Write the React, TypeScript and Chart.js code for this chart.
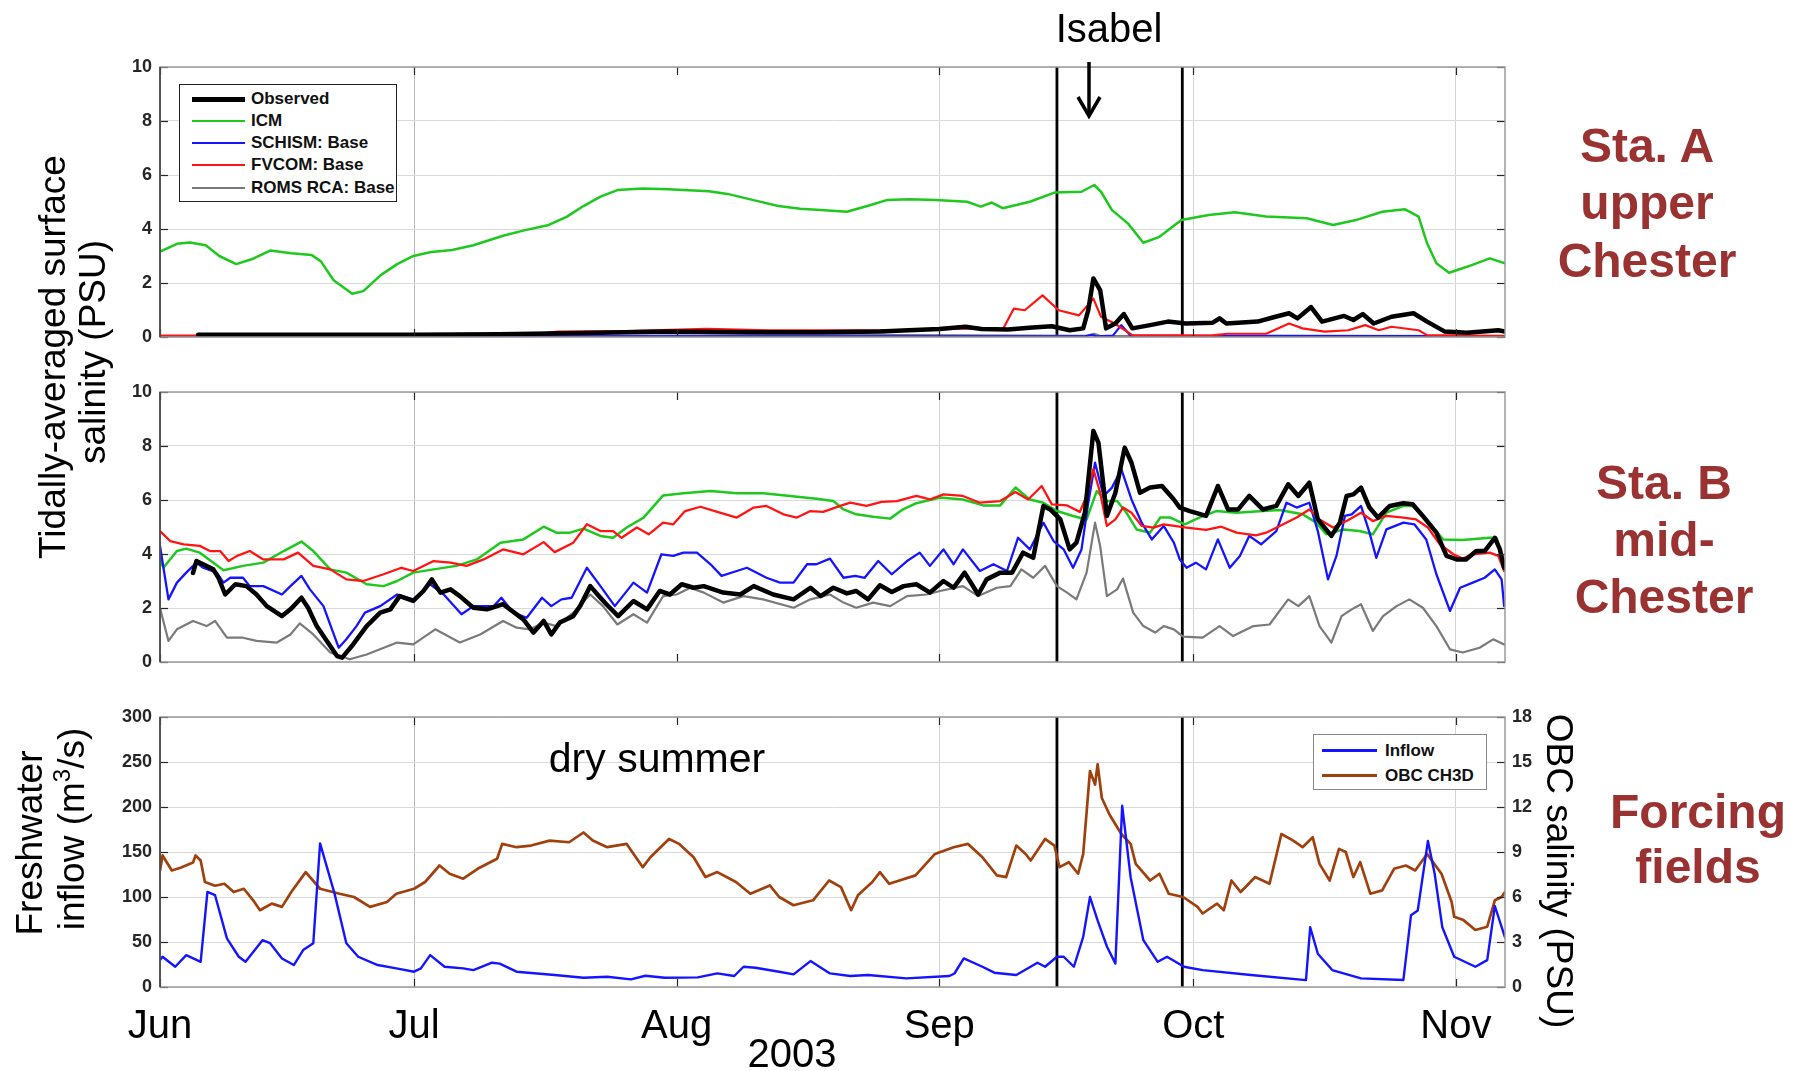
import React, { useEffect, useRef } from 'react';
import { Chart, registerables } from 'chart.js';
Chart.register(...registerables);

type P = [number, number];

const FONT = "'Liberation Sans', Arial, Helvetica, sans-serif";

// x axis: days since 1 June 2003
const monthDays = [0, 30, 61, 92, 122, 153];
const monthLabels = ['Jun', 'Jul', 'Aug', 'Sep', 'Oct', 'Nov'];
const monthGridOn = [true, true, false, true, true, true];
const xEnd = 158.8;
const isabelLines = [105.9, 120.7];

const salinityStep = 2;
const salinityMax = 10;
const inflowStep = 50;
const inflowMax = 300;
const obcStep = 3;
const obcMax = 18;

const namesAB = ['Observed', 'ICM', 'SCHISM: Base', 'FVCOM: Base', 'ROMS RCA: Base'];
const namesC = ['Inflow', 'OBC CH3D'];

// ---------- Sta. A (upper Chester) ----------
const obsA: P[] = [[4.5,0.08],[10,0.08],[20,0.08],[30,0.08],[40,0.1],[50,0.15],[60,0.2],[70,0.18],[78,0.18],[85,0.2],[88.4,0.25],[92,0.3],[95.1,0.38],[97,0.3],[100.1,0.28],[103,0.35],[105.3,0.4],[107.4,0.25],[109,0.32],[109.6,1.0],[110.2,2.17],[111,1.74],[111.7,0.32],[112.8,0.5],[113.8,0.85],[114.8,0.32],[116.9,0.44],[119,0.57],[121.1,0.5],[124.3,0.53],[125.1,0.69],[125.9,0.5],[129.6,0.57],[131.7,0.75],[133.3,0.88],[134.3,0.69],[135.9,1.11],[137.2,0.57],[139.8,0.78],[140.9,0.63],[142,0.85],[143.3,0.5],[145.4,0.75],[148,0.88],[149.6,0.57],[151.7,0.2],[154.3,0.16],[158,0.25],[158.8,0.2]];
const icmA: P[] = [[0,3.16],[2,3.45],[3.5,3.5],[5.4,3.4],[7,3.0],[9,2.7],[11,2.9],[13,3.2],[15.5,3.1],[17.9,3.04],[19,2.8],[20.5,2.1],[22.7,1.6],[24,1.7],[26.1,2.3],[28,2.7],[29.8,2.99],[32,3.15],[34.5,3.22],[37,3.4],[40.5,3.75],[43,3.95],[45.9,4.15],[48,4.45],[50,4.85],[52,5.2],[54,5.44],[57,5.5],[60,5.47],[64.8,5.4],[67,5.3],[70.2,5.06],[73,4.85],[75.6,4.75],[78,4.7],[81.1,4.64],[83.5,4.85],[85.8,5.07],[88.5,5.1],[91.6,5.07],[95.3,5.01],[96.9,4.83],[98.2,4.98],[99.5,4.77],[102.7,5.01],[105.6,5.35],[108.8,5.38],[110.3,5.63],[111.1,5.38],[112.4,4.7],[114.3,4.2],[116.1,3.49],[118,3.71],[120.6,4.33],[123.8,4.52],[126.9,4.62],[130.6,4.46],[135.4,4.4],[138.5,4.15],[141.2,4.33],[144.3,4.64],[147,4.73],[148.6,4.46],[149.6,3.47],[150.7,2.73],[152.2,2.38],[154.3,2.6],[157,2.91],[158.8,2.73]];
const schismA: P[] = [[0,0.02],[109,0.02],[110,0.08],[110.6,0.02],[112.5,0.05],[113.5,0.44],[114.6,0.05],[158.8,0.02]];
const fvcomA: P[] = [[0,0.05],[20,0.05],[35,0.08],[44,0.1],[47,0.2],[55,0.22],[64.5,0.3],[72,0.25],[80,0.25],[88.4,0.25],[95.3,0.32],[99.5,0.28],[100.8,1.05],[102.1,0.99],[104.2,1.54],[106.1,0.99],[108.5,0.8],[110.2,1.42],[111.1,0.75],[112.7,0.5],[114.8,0.07],[124,0.05],[126,0.12],[130.6,0.12],[133.3,0.5],[134.9,0.32],[137.5,0.2],[140.3,0.25],[142.3,0.44],[143.9,0.25],[145.4,0.38],[148.6,0.25],[149.6,0.07],[158.8,0.03]];
const romsA: P[] = [[0,0.03],[50,0.05],[80,0.08],[109.5,0.05],[110.3,0.12],[111,0.04],[158.8,0.05]];

// ---------- Sta. B (mid-Chester) ----------
const obsB: P[] = [[3.9,3.3],[4.3,3.74],[6.3,3.43],[6.9,3.12],[7.7,2.5],[8.9,2.88],[10.2,2.81],[11.4,2.5],[12.6,2.07],[14.4,1.7],[15.4,1.95],[16.7,2.38],[17.5,2.0],[18.5,1.33],[19.7,0.78],[20.9,0.22],[21.5,0.16],[22.8,0.65],[24.4,1.33],[26,1.83],[27.2,1.95],[28.3,2.44],[29.9,2.26],[31.1,2.63],[32.1,3.06],[33.1,2.57],[34.3,2.69],[35.4,2.44],[37,2.01],[38.6,1.95],[39.8,2.07],[40.5,2.14],[42.9,1.58],[44.1,1.09],[45.3,1.52],[46.2,1.02],[47.2,1.46],[48.8,1.7],[49.6,2.07],[50.8,2.81],[52,2.38],[52.7,2.14],[54.1,1.7],[55.9,2.26],[57.5,1.95],[59,2.63],[60.2,2.5],[61.6,2.88],[63,2.75],[64.2,2.81],[66.5,2.57],[68.5,2.5],[70.1,2.81],[72.4,2.5],[74.8,2.32],[76.8,2.75],[78,2.44],[79.5,2.75],[81.1,2.54],[82.2,2.63],[83.6,2.32],[85,2.84],[86.4,2.59],[87.8,2.81],[89.3,2.88],[90.9,2.57],[92.5,3.0],[93.7,2.75],[95,3.31],[96.6,2.5],[97.6,3.06],[99.2,3.31],[100.6,3.31],[101.9,4.05],[103.1,3.86],[104.3,5.78],[105.1,5.65],[106.3,5.28],[107.4,4.17],[108.2,4.42],[109.2,5.53],[110.2,8.56],[110.8,8.12],[111.8,5.41],[112.8,6.27],[113.9,7.94],[114.7,7.38],[115.7,6.27],[116.9,6.46],[118.3,6.52],[119.7,6.02],[120.4,5.72],[121.6,5.59],[123.5,5.41],[124.9,6.52],[126.1,5.65],[127.3,5.65],[128.6,6.15],[130.2,5.65],[131.8,5.78],[133.2,6.58],[134.4,6.15],[135.7,6.64],[136.7,5.28],[138.3,4.67],[139.3,5.16],[140.1,6.15],[140.9,6.21],[141.8,6.46],[142.8,5.72],[143.8,5.35],[145.2,5.78],[146.8,5.88],[147.9,5.84],[149.1,5.41],[150.7,4.79],[151.9,3.93],[153.1,3.8],[154.2,3.8],[155.4,4.11],[156.4,4.11],[157.6,4.6],[158.2,4.17],[158.7,3.49]];
const icmB: P[] = [[0,3.8],[0.4,3.49],[2,4.11],[3.1,4.2],[4.7,4.05],[6.3,3.68],[7.5,3.4],[9.8,3.56],[12.2,3.68],[14.6,4.11],[16.7,4.46],[18.1,4.11],[20.1,3.43],[22,3.31],[24.4,2.88],[26.4,2.81],[28,3.0],[29.9,3.31],[32.3,3.43],[35,3.56],[37.4,3.8],[40.2,4.42],[42.9,4.54],[45.3,5.01],[46.8,4.79],[48.4,4.79],[50,4.94],[52,4.67],[53.5,4.6],[55.1,4.98],[57.1,5.35],[59.4,6.17],[61.8,6.25],[65,6.33],[68.1,6.25],[71.2,6.25],[74.4,6.15],[77.5,6.05],[79.5,5.96],[80.7,5.65],[82.2,5.47],[84.2,5.38],[86.2,5.31],[87.6,5.63],[89.3,5.88],[92.1,6.09],[94.8,6.02],[97.2,5.8],[99.2,5.8],[101,6.46],[102.7,6.02],[104.3,5.9],[105.9,5.59],[107.8,5.41],[109.4,5.28],[110.6,6.33],[111.8,5.96],[113,5.96],[114.1,5.53],[115.3,4.91],[116.9,4.79],[118.1,5.35],[119.3,5.35],[121,5.1],[122.7,5.35],[124.7,5.59],[127.1,5.53],[130.2,5.59],[132.2,5.63],[134.9,5.47],[136.5,5.16],[137.7,4.73],[139.7,4.91],[141.6,4.85],[143.2,4.73],[144.8,5.53],[146.8,5.78],[147.9,5.78],[149.5,5.28],[151.5,4.54],[153.8,4.52],[157,4.6],[157.8,4.6],[158.7,3.68]];
const schismB: P[] = [[0,4.3],[1,2.32],[2,2.94],[3.1,3.31],[4.3,3.68],[5.1,3.49],[6.7,3.31],[7.5,2.94],[8.3,3.12],[9.8,3.12],[10.6,2.81],[12.2,2.81],[14.4,2.5],[15.4,2.81],[16.7,3.19],[17.7,2.69],[19.3,2.07],[20.3,1.21],[21.1,0.53],[22,0.84],[23.2,1.33],[24.2,1.83],[26,2.07],[28,2.5],[29.9,2.32],[31.9,2.88],[33.5,2.5],[35.6,1.77],[37,2.07],[39.4,2.07],[40.3,2.38],[41.7,1.83],[43.3,1.64],[45.1,2.38],[46.2,2.07],[47.4,2.32],[48.6,2.38],[50.4,3.49],[52,2.81],[53.7,2.07],[55.9,2.94],[57.5,2.57],[59.2,3.99],[60.6,3.93],[61.8,4.05],[63.4,4.05],[65,3.62],[66.3,3.19],[68.1,3.37],[69.3,3.49],[71.6,3.12],[73.2,2.94],[74.8,2.94],[76.4,3.62],[77.5,3.62],[79.1,3.83],[80.7,3.12],[82.1,3.19],[83.2,3.12],[84.8,3.74],[86.4,3.25],[88.2,3.74],[89.7,4.05],[90.9,3.56],[92.5,4.17],[93.7,3.62],[94.8,4.17],[96.8,3.37],[98.4,3.62],[100,3.37],[101.3,4.6],[102.7,4.17],[104.3,5.16],[105.5,4.48],[106.7,4.17],[107.8,3.49],[108.8,4.17],[109.6,5.9],[110.4,7.38],[111.4,6.15],[112.4,6.46],[113.5,7.14],[114.7,6.02],[115.9,5.16],[117.1,4.54],[118.5,5.04],[119.7,4.42],[120.4,3.8],[121.2,3.49],[122.3,3.68],[123.5,3.43],[124.9,4.54],[126.3,3.49],[127.5,3.93],[128.6,4.67],[130,4.36],[131.8,4.85],[133,5.9],[134.2,5.72],[135.7,5.9],[136.7,4.85],[137.9,3.06],[138.9,3.93],[139.9,5.41],[140.7,5.47],[141.8,5.78],[142.8,4.79],[143.6,3.86],[144.8,4.91],[146.8,5.16],[148.1,5.1],[149.5,4.54],[150.7,3.25],[152.3,1.89],[153.5,2.75],[155,2.94],[156.4,3.12],[157.6,3.43],[158.4,3.06],[158.7,2.07]];
const fvcomB: P[] = [[0,4.85],[1.2,4.48],[2.8,4.36],[4.7,4.3],[5.9,4.11],[7.1,4.11],[8.1,3.74],[9.1,3.93],[10.6,4.11],[12.2,3.8],[14.6,3.8],[16.3,4.05],[18.1,3.56],[20.1,3.43],[22,3.06],[24,3.0],[26.4,3.25],[28.5,3.49],[29.9,3.37],[32.3,3.74],[34.3,3.68],[36.2,3.56],[38.2,3.8],[40.5,4.17],[42.9,3.99],[45.3,4.44],[46.6,4.07],[48.8,4.42],[50.4,5.1],[52,4.85],[53.5,4.85],[54.5,4.6],[56.3,4.98],[57.7,4.73],[59.4,5.16],[60.6,5.1],[62,5.59],[63.8,5.75],[66.1,5.53],[68.1,5.35],[70.1,5.72],[71.6,5.78],[73.6,5.47],[75.2,5.35],[76.8,5.59],[78.3,5.56],[80.3,5.78],[81.5,5.9],[83.4,5.78],[85.2,5.93],[87,5.96],[89.3,6.15],[90.9,6.02],[92.5,6.21],[94.8,6.15],[96.8,5.9],[99.2,5.96],[101,6.3],[102.5,6.02],[104.1,6.52],[105.3,5.84],[107.1,5.8],[108.6,5.56],[109.4,6.15],[110.2,7.14],[111,6.27],[111.8,5.04],[112.8,5.28],[113.7,5.72],[114.7,5.53],[115.9,5.04],[117.3,4.98],[118.5,5.1],[121.2,4.98],[123.5,4.89],[125.3,5.01],[127.1,4.79],[129.4,4.69],[130.6,4.79],[132.2,5.04],[134.2,5.35],[135.7,5.65],[136.9,5.28],[138.5,4.98],[140.1,5.22],[141.8,5.53],[143.2,5.22],[144.8,5.41],[146.8,5.35],[148.3,5.28],[149.7,4.98],[151.1,4.36],[152.7,3.99],[153.8,3.83],[155,3.99],[157,4.05],[158,3.93],[158.7,3.37]];
const romsB: P[] = [[0,2.0],[1,0.78],[2,1.21],[3.9,1.52],[5.5,1.33],[6.5,1.52],[7.9,0.9],[9.8,0.9],[11.4,0.78],[13.8,0.72],[15.4,1.02],[16.5,1.43],[18.1,1.02],[20.1,0.35],[22.4,0.1],[24.4,0.28],[28,0.72],[29.9,0.65],[32.5,1.21],[35.4,0.72],[37.8,1.02],[40.5,1.52],[42.1,1.27],[43.7,1.21],[45.3,1.46],[46.8,1.33],[48.8,1.83],[50.8,2.5],[52.3,2.07],[54,1.39],[55.9,1.77],[57.5,1.46],[59.4,2.44],[61,2.5],[62.6,2.75],[64.2,2.57],[66.5,2.2],[68.9,2.44],[71.2,2.32],[74.8,2.01],[76.8,2.32],[79.1,2.5],[80.7,2.2],[82.2,2.01],[84.2,2.2],[86.2,2.07],[88.2,2.44],[90.5,2.5],[92.1,2.63],[94.8,2.81],[96.6,2.44],[98.8,2.75],[100.4,2.81],[101.7,3.43],[103.1,3.12],[104.5,3.56],[105.9,2.81],[107.1,2.57],[108.2,2.32],[109.4,3.31],[110.4,5.16],[111,4.3],[111.8,2.44],[113,2.69],[113.7,3.09],[114.9,1.83],[116.1,1.33],[117.5,1.09],[118.5,1.33],[119.7,1.21],[120.8,0.94],[123.1,0.9],[125.1,1.33],[126.7,0.96],[129.1,1.33],[131,1.39],[133.2,2.32],[134.4,2.07],[135.7,2.44],[136.9,1.33],[138.3,0.72],[139.5,1.7],[140.7,1.95],[141.8,2.14],[143.2,1.15],[144.4,1.7],[146,2.07],[147.5,2.32],[149.1,2.01],[150.7,1.33],[152.3,0.47],[153.8,0.35],[155.8,0.53],[157.4,0.84],[158.7,0.65]];

// ---------- Forcing fields ----------
const inflow: P[] = [[0,29.9],[0.3,33.6],[1.8,22.5],[3.1,35.4],[4.8,28],[5.6,105.6],[6.5,102],[7.9,54],[9.3,33.6],[10.1,28],[12.1,52],[13,48.7],[14.4,31.7],[15.8,24.4],[16.9,41],[18.1,48.7],[18.9,159.5],[20.6,104],[22,48.7],[23.4,33.6],[25.7,24.4],[27.9,20.7],[30,17],[30.8,20.7],[31.9,35.4],[33.6,22.5],[35.8,20.7],[37,18.8],[39.2,27],[40.1,26],[42.1,17],[46.6,13.3],[50,10.3],[52.8,11.4],[55.6,8.5],[57.3,12.5],[59.6,10.3],[63.5,10.7],[65.8,15.1],[67.8,12.2],[68.9,22.5],[70.3,21.4],[73.1,17],[74.8,14],[76.8,28.8],[79.1,15.1],[81.5,12.2],[83.6,13.3],[88.1,9.6],[93.2,12.2],[93.8,15],[94.9,31.7],[97.1,22.5],[98.5,15.9],[101.1,13.3],[103.6,27],[104.5,22.5],[105.9,33.6],[106.7,33.6],[107.9,22.5],[109,55.7],[109.8,100],[110.7,74],[111.8,45],[112.8,26],[113.6,201.4],[114.6,122],[116.1,52],[117.8,28],[118.9,33.6],[120.9,22.5],[123.1,18.8],[128.8,13.3],[135.3,7.7],[135.8,66.4],[136.7,37],[138.4,18.8],[141.8,9.6],[146.8,7.7],[147.7,79.7],[148.5,85],[149.7,162.3],[150.5,125.5],[151.4,66.4],[152.8,33.6],[155.3,22.5],[156.7,29.9],[157.6,90],[158.8,55]];
const obcCH3D: P[] = [[0,7.77],[0.3,8.77],[1.4,7.77],[2.5,7.97],[3.9,8.3],[4.2,8.77],[4.8,8.43],[5.3,7.0],[6.5,6.75],[7.6,6.88],[8.7,6.33],[9.9,6.55],[11,5.78],[11.8,5.12],[13.2,5.56],[14.4,5.34],[15.5,6.33],[17.2,7.66],[18.9,6.55],[21.2,6.22],[22.9,6.0],[24.8,5.34],[26.8,5.67],[27.9,6.22],[30,6.55],[31.3,7.0],[33,8.1],[34.2,7.55],[35.8,7.22],[37.5,7.88],[39.8,8.55],[40.4,9.54],[42.1,9.32],[43.8,9.43],[46,9.76],[48.3,9.65],[50,10.3],[51.1,9.76],[52.8,9.32],[55.1,9.54],[57,7.99],[57.9,8.65],[60.1,9.87],[61.3,9.54],[63,8.65],[64.4,7.33],[65.8,7.66],[68,7.0],[69.7,6.22],[72,6.77],[73.1,6.0],[74.8,5.45],[77.1,5.78],[79,7.1],[80.4,6.66],[81.6,5.12],[82.4,6.11],[84.1,7.0],[85,7.66],[86.1,6.88],[89.2,7.44],[91.5,8.87],[93.7,9.32],[95.4,9.54],[97.1,8.65],[98.8,7.44],[99.9,7.33],[101.1,9.43],[102.2,8.87],[102.8,8.43],[104.5,9.87],[105.6,9.43],[106.2,7.99],[107.3,8.32],[108.4,7.55],[109,8.87],[109.8,14.4],[110.4,13.5],[110.7,14.85],[111.2,12.6],[112.1,11.5],[113.5,10.2],[114.6,9.54],[115.2,8.21],[116.9,7.1],[118,7.55],[119.1,6.22],[120.8,6.0],[122.5,5.34],[123.1,4.9],[124.8,5.56],[125.6,5.12],[126.5,7.1],[127.6,6.33],[129.3,7.33],[131,6.88],[132.4,10.2],[133.8,9.76],[134.9,9.32],[136.1,9.98],[136.9,8.21],[138.1,7.1],[139.2,9.21],[140,9.0],[140.9,7.33],[141.7,8.32],[142.9,6.22],[144.3,6.44],[145.7,7.88],[147.1,8.1],[148.2,7.77],[149.6,8.87],[151.3,7.55],[152.5,5.67],[152.8,4.68],[153.9,4.46],[155.3,3.8],[156.7,4.02],[157.6,5.78],[158.4,6.0],[158.8,6.33]];

const C_OBS = '#000000';
const C_ICM = '#1ec81e';
const C_SCHISM = '#1414ff';
const C_FVCOM = '#ff1414';
const C_ROMS = '#7a7a7a';
const C_OBC = '#a0400c';
const C_STA = '#9b3232';

const lineDs = (data: P[], color: string, width: number, yAxisID = 'y') => ({
  type: 'line',
  data: data.map(([x, y]) => ({ x, y })),
  borderColor: color,
  borderWidth: width,
  pointRadius: 0,
  tension: 0,
  fill: false,
  yAxisID,
  borderJoinStyle: 'round',
  borderCapStyle: 'round',
});

const eventDs = (yMax: number) =>
  isabelLines.map((d) => ({
    type: 'line',
    data: [{ x: d, y: 0 }, { x: d, y: yMax }],
    borderColor: '#000',
    borderWidth: 2.8,
    pointRadius: 0,
    fill: false,
    yAxisID: 'y',
  }));

const framePlugin = {
  id: 'frame',
  afterDatasetsDraw(chart: any) {
    const { ctx, chartArea: a, scales } = chart;
    const seg = (x1: number, y1: number, x2: number, y2: number) => {
      ctx.beginPath();
      ctx.moveTo(x1, y1);
      ctx.lineTo(x2, y2);
      ctx.stroke();
    };
    ctx.save();
    ctx.strokeStyle = '#262626';
    ctx.lineWidth = 1.2;
    const y = scales.y;
    y.ticks.forEach((t: any) => {
      const py = Math.round(y.getPixelForValue(t.value)) + 0.5;
      seg(a.left, py, a.left + 8, py);
      if (!scales.y2) seg(a.right - 8, py, a.right, py);
    });
    if (scales.y2) {
      scales.y2.ticks.forEach((t: any) => {
        const py = Math.round(scales.y2.getPixelForValue(t.value)) + 0.5;
        seg(a.right - 8, py, a.right, py);
      });
    }
    const x = scales.x;
    monthDays.forEach((d) => {
      const px = Math.round(x.getPixelForValue(d)) + 0.5;
      seg(px, a.bottom, px, a.bottom - 8);
      seg(px, a.top, px, a.top + 8);
    });
    ctx.strokeStyle = '#9a9a9a';
    ctx.lineWidth = 1.5;
    ctx.strokeRect(a.left, a.top, a.right - a.left, a.bottom - a.top);
    ctx.strokeStyle = '#3a3a3a';
    seg(a.left, a.top, a.left, a.bottom);
    ctx.restore();
  },
};

function xScale(showLabels: boolean) {
  return {
    type: 'linear',
    min: 0,
    max: xEnd,
    afterBuildTicks: (s: any) => {
      s.ticks = monthDays.map((v) => ({ value: v }));
    },
    afterFit: (s: any) => {
      s.height = showLabels ? 84 : 0;
    },
    grid: {
      color: (c: any) => (c.index === 1 ? '#b8b8b8' : monthGridOn[c.index] ? '#d4d4d4' : 'rgba(0,0,0,0)'),
      drawTicks: false,
      lineWidth: 1,
    },
    border: { display: false },
    ticks: {
      display: showLabels,
      callback: (_v: any, i: number) => monthLabels[i],
      font: { size: 40, family: FONT },
      color: '#000',
      padding: 16,
      maxRotation: 0,
      autoSkip: false,
    },
  };
}

function yScale(max: number, step: number, position: 'left' | 'right', grid: boolean) {
  return {
    type: 'linear',
    position,
    min: 0,
    max,
    afterFit: (s: any) => {
      s.width = position === 'left' ? 50 : 45;
    },
    grid: { display: grid, color: '#dadada', drawTicks: false, lineWidth: 1 },
    border: { display: false },
    ticks: {
      stepSize: step,
      font: { size: 18, weight: 'bold', family: FONT },
      color: '#262626',
      padding: position === 'left' ? 8 : 7,
    },
  };
}

function baseOptions(padding: any, scales: any) {
  return {
    responsive: false,
    animation: false,
    events: [],
    layout: { padding },
    plugins: { legend: { display: false }, tooltip: { enabled: false }, title: { display: false } },
    scales,
  };
}

const abs = (extra: any): React.CSSProperties => ({
  position: 'absolute',
  whiteSpace: 'nowrap',
  fontFamily: FONT,
  lineHeight: 1,
  ...extra,
});

function Txt({ x, y, size, children, bold, color, rot }: any) {
  return (
    <div
      style={abs({
        left: x,
        top: y,
        fontSize: size,
        fontWeight: bold ? 'bold' : 'normal',
        color: color || '#000',
        transform: `translate(-50%, -50%)${rot ? ` rotate(${rot}deg)` : ''}`,
      })}
    >
      {children}
    </div>
  );
}

function LegendRow({ top, color, width, label }: any) {
  return (
    <>
      <div style={abs({ left: 12, top: top - width / 2, width: 53, height: width, background: color })} />
      <div style={abs({ left: 71, top: top - 9, fontSize: 17, fontWeight: 'bold', color: '#111' })}>{label}</div>
    </>
  );
}

export default function App() {
  const refA = useRef<HTMLCanvasElement>(null);
  const refB = useRef<HTMLCanvasElement>(null);
  const refC = useRef<HTMLCanvasElement>(null);

  useEffect(() => {
    Chart.defaults.font.family = FONT;
    const charts: Chart[] = [];

    charts.push(
      new Chart(refA.current as HTMLCanvasElement, {
        type: 'line',
        data: {
          datasets: [
            lineDs(obsA, C_OBS, 4.5),
            lineDs(fvcomA, C_FVCOM, 2.2),
            lineDs(schismA, C_SCHISM, 2.2),
            lineDs(icmA, C_ICM, 2.5),
            lineDs(romsA, C_ROMS, 2),
            ...eventDs(salinityMax),
          ] as any,
        },
        options: baseOptions(
          { top: 67, bottom: 23, left: 110, right: 288 },
          { x: xScale(false), y: yScale(salinityMax, salinityStep, 'left', true) }
        ) as any,
        plugins: [framePlugin],
      })
    );

    charts.push(
      new Chart(refB.current as HTMLCanvasElement, {
        type: 'line',
        data: {
          datasets: [
            lineDs(obsB, C_OBS, 4.5),
            lineDs(fvcomB, C_FVCOM, 2.3),
            lineDs(schismB, C_SCHISM, 2.3),
            lineDs(icmB, C_ICM, 2.5),
            lineDs(romsB, C_ROMS, 2.2),
            ...eventDs(salinityMax),
          ] as any,
        },
        options: baseOptions(
          { top: 20, bottom: 20, left: 110, right: 288 },
          { x: xScale(false), y: yScale(salinityMax, salinityStep, 'left', true) }
        ) as any,
        plugins: [framePlugin],
      })
    );

    charts.push(
      new Chart(refC.current as HTMLCanvasElement, {
        type: 'line',
        data: {
          datasets: [
            lineDs(inflow, C_SCHISM, 2.4, 'y'),
            lineDs(obcCH3D, C_OBC, 2.7, 'y2'),
            ...eventDs(inflowMax),
          ] as any,
        },
        options: baseOptions(
          { top: 20, bottom: 0, left: 110, right: 243 },
          {
            x: xScale(true),
            y: yScale(inflowMax, inflowStep, 'left', true),
            y2: yScale(obcMax, obcStep, 'right', false),
          }
        ) as any,
        plugins: [framePlugin],
      })
    );

    return () => charts.forEach((c) => c.destroy());
  }, []);

  return (
    <div style={{ position: 'absolute', left: 0, top: 0, width: 1793, height: 1071, background: '#fff', overflow: 'hidden' }}>
      <canvas ref={refA} width={1793} height={360} style={{ position: 'absolute', left: 0, top: 0, width: 1793, height: 360 }} />
      <canvas ref={refB} width={1793} height={310} style={{ position: 'absolute', left: 0, top: 372, width: 1793, height: 310 }} />
      <canvas ref={refC} width={1793} height={374} style={{ position: 'absolute', left: 0, top: 697, width: 1793, height: 374 }} />

      {/* Legend: salinity panels */}
      <div style={abs({ left: 179, top: 84, width: 218, height: 118, background: '#fff', border: '1.5px solid #222', boxSizing: 'border-box' })}>
        <LegendRow top={14} color={C_OBS} width={5} label={namesAB[0]} />
        <LegendRow top={36} color={C_ICM} width={2.4} label={namesAB[1]} />
        <LegendRow top={58} color={C_SCHISM} width={2.2} label={namesAB[2]} />
        <LegendRow top={80} color={C_FVCOM} width={2.2} label={namesAB[3]} />
        <LegendRow top={103} color={C_ROMS} width={2} label={namesAB[4]} />
      </div>

      {/* Legend: forcing panel */}
      <div style={abs({ left: 1313, top: 734, width: 174, height: 56, background: '#fff', border: '1.5px solid #8a8a8a', boxSizing: 'border-box' })}>
        <div style={abs({ left: 8, top: 14, width: 55, height: 2.5, background: C_SCHISM })} />
        <div style={abs({ left: 71, top: 7, fontSize: 17, fontWeight: 'bold', color: '#111' })}>{namesC[0]}</div>
        <div style={abs({ left: 8, top: 39, width: 55, height: 2.5, background: C_OBC })} />
        <div style={abs({ left: 71, top: 32, fontSize: 17, fontWeight: 'bold', color: '#111' })}>{namesC[1]}</div>
      </div>

      {/* Annotations */}
      <Txt x={1109} y={28} size={40}>Isabel</Txt>
      <svg style={{ position: 'absolute', left: 0, top: 0 }} width={1793} height={1071}>
        <line x1={1089} y1={62} x2={1089} y2={114} stroke="#000" strokeWidth={3.5} />
        <polyline points="1078,97 1089,116 1100,97" fill="none" stroke="#000" strokeWidth={3.5} />
      </svg>
      <Txt x={657} y={758} size={41}>dry summer</Txt>
      <Txt x={792} y={1053} size={40}>2003</Txt>

      {/* Axis titles */}
      <Txt x={52} y={357} size={37} rot={-90}>Tidally-averaged surface</Txt>
      <Txt x={92} y={352} size={37} rot={-90}>salinity (PSU)</Txt>
      <Txt x={29} y={843} size={37} rot={-90}>Freshwater</Txt>
      <Txt x={71} y={829} size={37} rot={-90}>
        inflow (m<sup style={{ fontSize: 24, verticalAlign: 'super', lineHeight: 0 }}>3</sup>/s)
      </Txt>
      <Txt x={1559} y={871} size={37} rot={90}>OBC salinity (PSU)</Txt>

      {/* Station labels */}
      <Txt x={1647} y={146} size={48} bold color={C_STA}>Sta. A</Txt>
      <Txt x={1647} y={203} size={48} bold color={C_STA}>upper</Txt>
      <Txt x={1647} y={261} size={48} bold color={C_STA}>Chester</Txt>
      <Txt x={1664} y={483} size={48} bold color={C_STA}>Sta. B</Txt>
      <Txt x={1664} y={540} size={48} bold color={C_STA}>mid-</Txt>
      <Txt x={1664} y={597} size={48} bold color={C_STA}>Chester</Txt>
      <Txt x={1698} y={812} size={48} bold color={C_STA}>Forcing</Txt>
      <Txt x={1698} y={867} size={48} bold color={C_STA}>fields</Txt>
    </div>
  );
}
